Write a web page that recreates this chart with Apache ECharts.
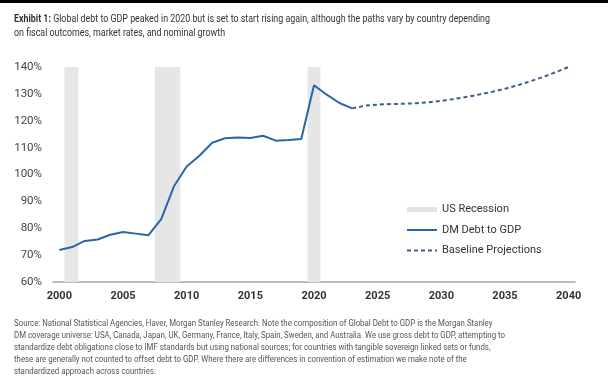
<!DOCTYPE html>
<html><head><meta charset="utf-8">
<script src="https://cdn.jsdelivr.net/npm/echarts@6/dist/echarts.min.js"></script>
<style>html,body{margin:0;padding:0;background:#fff}#c{width:608px;height:387px}</style>
</head><body><div id="c"></div>
<script>
var histYears = [2000,2001,2002,2003,2004,2005,2006,2007,2008,2009,2010,2011,2012,2013,2014,2015,2016,2017,2018,2019,2020,2021,2022,2023];
var histValues = [71.9,73.0,75.3,75.8,77.6,78.6,78.0,77.4,83.4,95.6,103.0,107.0,111.8,113.5,113.8,113.6,114.4,112.6,112.8,113.2,133.2,129.7,126.6,124.6];
var projYears = [2023,2024,2025,2026,2027,2028,2029,2030,2031,2032,2033,2034,2035,2036,2037,2038,2039,2040];
var projValues = [124.6,125.6,126.0,126.2,126.3,126.5,126.9,127.4,128.1,128.9,129.8,130.8,131.9,133.2,134.7,136.3,138.1,140.0];
var recessionStarts = [2000.4, 2007.5, 2019.5];
var recessionEnds = [2001.5, 2009.5, 2020.5];
var xTickLabels = [2000,2005,2010,2015,2020,2025,2030,2035,2040];
var titleBold = 'Exhibit 1:';
var titleLines = [' Global debt to GDP peaked in 2020 but is set to start rising again, although the paths vary by country depending', 'on fiscal outcomes, market rates, and nominal growth'];
var sourceLines = [
 'Source: National Statistical Agencies, Haver, Morgan Stanley Research. Note the composition of Global Debt to GDP is the Morgan Stanley',
 'DM coverage universe: USA, Canada, Japan, UK, Germany, France, Italy, Spain, Sweden, and Australia. We use gross debt to GDP, attempting to',
 'standardize debt obligations close to IMF standards but using national sources; for countries with tangible sovereign linked sets or funds,',
 'these are generally not counted to offset debt to GDP. Where there are differences in convention of estimation we make note of the',
 'standardized approach across countries.'];

function pairs(xs, ys){ return xs.map(function(x,i){return [x, ys[i]];}); }
var areas = recessionStarts.map(function(s,i){ return [{xAxis:s},{xAxis:recessionEnds[i]}]; });
var FN = 'Roboto';

var cv = document.createElement('canvas').getContext('2d');
function measure(t, font){ cv.font = font; return cv.measureText(t).width; }
var titleW = measure(titleBold, 'bold 11px Roboto') + measure(titleLines[0], '11px Roboto');
var titleScale = 476 / titleW;
var srcW = measure(sourceLines[1], '9.5px Roboto');
var srcScale = 491 / srcW;

var chart = echarts.init(document.getElementById('c'), null, {renderer:'canvas'});
chart.setOption({
  animation:false,
  backgroundColor:'#fff',
  graphic:[
    {type:'rect',shape:{x:0,y:0,width:608,height:3},style:{fill:'#000'}},
    {type:'text',x:14,y:12,scaleX:titleScale,style:{
      text:'{b|'+titleBold+'}{n|'+titleLines[0]+'}\n{n|'+titleLines[1]+'}',
      rich:{
        b:{fontFamily:FN,fontSize:11,fontWeight:'bold',fill:'#333',lineHeight:14},
        n:{fontFamily:FN,fontSize:11,fontWeight:'normal',fill:'#333',lineHeight:14}
      }}},
    {type:'text',x:14,y:318,scaleX:srcScale,style:{
      text:sourceLines.join('\n'),fontFamily:FN,fontSize:9.5,fill:'#555',lineHeight:12}}
  ],
  legend:{
    orient:'vertical', left:401, top:199, itemWidth:30, itemHeight:12, itemGap:9.5,
    textStyle:{fontFamily:FN,fontSize:11,color:'#333'},
    data:[
      {name:'US Recession',icon:'path://M0,0H30V5H0Z',itemStyle:{color:'#e3e3e3'}},
      {name:'DM Debt to GDP',itemStyle:{opacity:0}},
      {name:'Baseline Projections',itemStyle:{opacity:0}}
    ]
  },
  grid:{left:53,right:33,top:67,bottom:105},
  xAxis:{
    type:'value', min:1999.5, max:2040.5,
    axisLine:{show:true,lineStyle:{color:'#a6a6a6',width:1.5}},
    axisTick:{show:false},
    splitLine:{show:false},
    axisLabel:{customValues:xTickLabels, formatter:function(v){return String(Math.round(v));},
      fontFamily:FN,fontSize:11,fontWeight:'bold',color:'#333',margin:9}
  },
  yAxis:{
    type:'value', min:60, max:140, interval:10,
    axisLine:{show:false}, axisTick:{show:false}, splitLine:{show:false},
    axisLabel:{formatter:'{value}%',fontFamily:FN,fontSize:11.5,color:'#444',margin:11}
  },
  series:[
    {name:'US Recession',type:'bar',data:[],itemStyle:{color:'#e6e6e6'}},
    {name:'DM Debt to GDP',type:'line',data:pairs(histYears,histValues),symbol:'none',
      lineStyle:{color:'#2866aa',width:2},itemStyle:{color:'#2866aa'},z:3,
      markArea:{silent:true,itemStyle:{color:'#e6e6e6'},data:areas}
    },
    {name:'Baseline Projections',type:'line',data:pairs(projYears,projValues),symbol:'none',
      lineStyle:{color:'#3d5d8c',width:2,type:[4,3]},itemStyle:{color:'#3d5d8c'},z:3}
  ]
});
</script></body></html>
